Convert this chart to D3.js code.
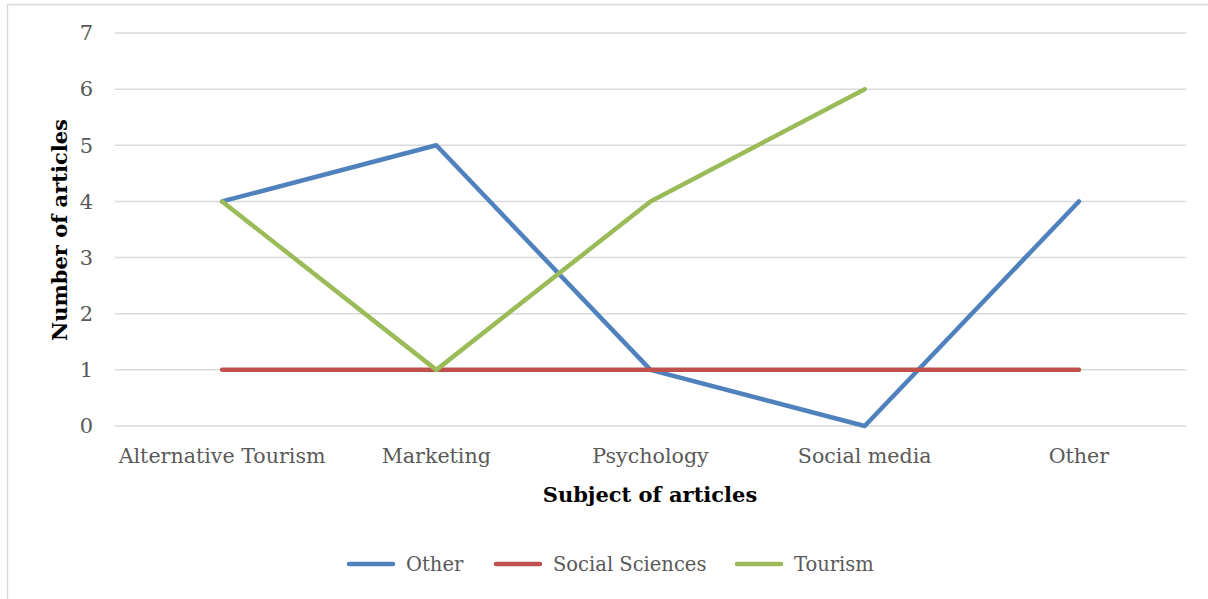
<!DOCTYPE html>
<html><head><meta charset="utf-8">
<script src="https://cdn.jsdelivr.net/npm/d3@7"></script>
<style>body{margin:0;background:#fff}svg{display:block}</style>
</head><body>
<svg id="c" width="1208" height="599"></svg>
<script>
const categories = ["Alternative Tourism", "Marketing", "Psychology", "Social media", "Other"];
const seriesNames = ["Other", "Social Sciences", "Tourism"];
const otherValues = [4, 5, 1, 0, 4];
const socialValues = [1, 1, 1, 1, 1];
const tourismValues = [4, 1, 4, 6, null];
const yTicks = [0, 1, 2, 3, 4, 5, 6, 7];
const colors = ["#4f81bd", "#c0504d", "#9bbb59"];

(function () {
const series = [
  {name: seriesNames[0], values: otherValues, color: colors[0]},
  {name: seriesNames[1], values: socialValues, color: colors[1]},
  {name: seriesNames[2], values: tourismValues, color: colors[2]}
];

const FONT = "'DejaVu Serif', serif";
const svg = d3.select("#c");
svg.append("rect").attr("x", 7.5).attr("y", 4.5).attr("width", 1220).attr("height", 620)
  .attr("fill", "#fff").attr("stroke", "#d9d9d9").attr("stroke-width", 1.5);

const pLeft = 115, pRight = 1186, pTop = 33, pBottom = 426;
const x = d3.scaleBand().domain(categories).range([pLeft, pRight]);
const y = d3.scaleLinear().domain([0, 7]).range([pBottom, pTop]);

svg.append("g").selectAll("line").data(yTicks).join("line")
  .attr("x1", pLeft).attr("x2", pRight)
  .attr("y1", d => y(d)).attr("y2", d => y(d))
  .attr("stroke", "#d9d9d9").attr("stroke-width", 1.5);

const yAxis = svg.append("g").attr("transform", `translate(${pLeft},0)`)
  .call(d3.axisLeft(y).tickValues(yTicks).tickFormat(d3.format("d")).tickSize(0).tickPadding(22));
yAxis.select(".domain").remove();
yAxis.selectAll("text").attr("font-family", FONT).attr("font-size", 21).attr("fill", "#595959");

const xAxis = svg.append("g").attr("transform", `translate(0,${pBottom})`)
  .call(d3.axisBottom(x).tickSize(0).tickPadding(22));
xAxis.select(".domain").remove();
xAxis.selectAll("text").attr("font-family", FONT).attr("font-size", 20.6).attr("fill", "#595959");

const line = d3.line()
  .defined(d => d.v !== null)
  .x(d => x(d.c) + x.bandwidth() / 2)
  .y(d => y(d.v));
svg.append("g").selectAll("path").data(series).join("path")
  .attr("d", s => line(s.values.map((v, i) => ({c: categories[i], v}))))
  .attr("fill", "none").attr("stroke", s => s.color)
  .attr("stroke-width", 4.5).attr("stroke-linejoin", "round").attr("stroke-linecap", "round");

svg.append("text").attr("x", 650).attr("y", 502).attr("text-anchor", "middle")
  .attr("font-family", FONT).attr("font-size", 21).attr("font-weight", "bold").attr("fill", "#000")
  .text("Subject of articles");
svg.append("text").attr("transform", "translate(67,230) rotate(-90)").attr("text-anchor", "middle")
  .attr("font-family", FONT).attr("font-size", 21).attr("font-weight", "bold").attr("fill", "#000")
  .text("Number of articles");

const legendX = [349, 496, 737];
const lg = svg.append("g").selectAll("g").data(series).join("g")
  .attr("transform", (d, i) => `translate(${legendX[i]},564)`);
lg.append("line").attr("x1", 0).attr("x2", 44).attr("y1", 0).attr("y2", 0)
  .attr("stroke", d => d.color).attr("stroke-width", 4.5).attr("stroke-linecap", "round");
lg.append("text").attr("x", 57).attr("y", 7).attr("font-family", FONT).attr("font-size", 19.5)
  .attr("fill", "#595959").text(d => d.name);
})();
</script>
</body></html>
